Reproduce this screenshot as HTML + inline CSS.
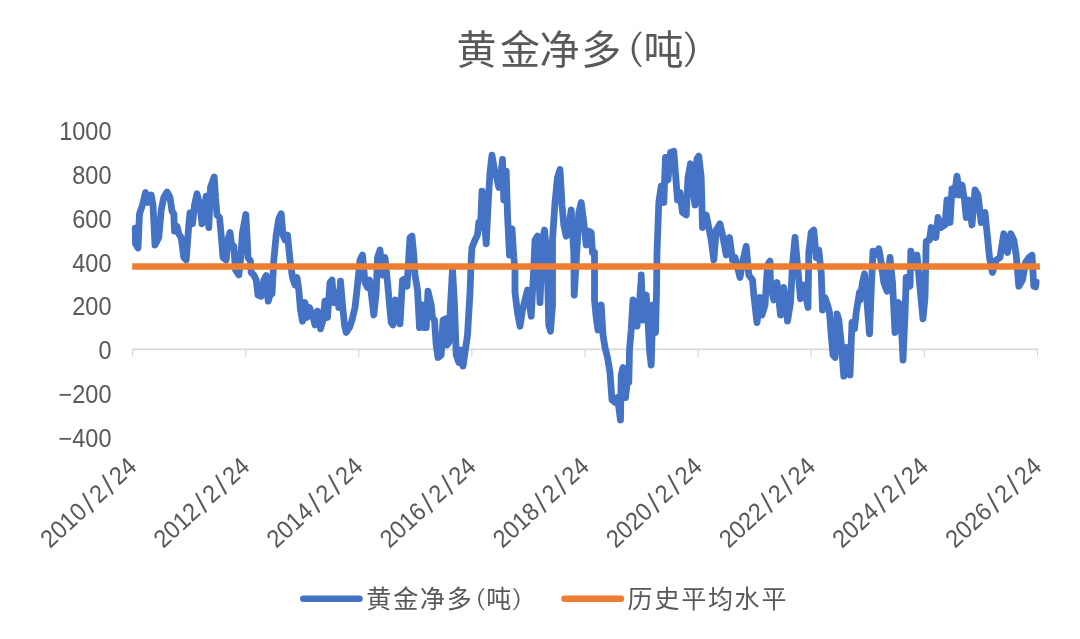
<!DOCTYPE html>
<html lang="zh-CN">
<head>
<meta charset="utf-8">
<title>黄金净多(吨)</title>
<style>
html,body{margin:0;padding:0;background:#fff;}
body{width:1080px;height:639px;overflow:hidden;}
svg{display:block;}
text{font-family:"Liberation Sans","Noto Sans CJK SC",sans-serif;fill:#595959;}
.ax text{font-size:25px;}
.ax .sl{font-size:29px;}
.title{font-size:40px;font-weight:400;}
.lg{font-size:25px;font-weight:400;}
.pn{font-family:"Noto Sans CJK SC",sans-serif;font-weight:300;}
</style>
</head>
<body>
<svg width="1080" height="639" viewBox="0 0 1080 639">
<rect width="1080" height="639" fill="#fff"/>
<g><text class="title" y="63.6" x="456.5 500 539.5 581.2">黄金净多</text><text class="title pn" style="font-size:35.5px" transform="translate(626.2,59.8) scale(1.6,1)">(</text><text class="title" y="63.6" x="643.5">吨</text><text class="title pn" style="font-size:35.5px" transform="translate(682.6,59.8) scale(1.6,1)">)</text></g>
<g class="ax">
<text transform="translate(111.5,139.6) scale(0.94,1)" text-anchor="end">1000</text>
<text transform="translate(111.5,183.6) scale(0.94,1)" text-anchor="end">800</text>
<text transform="translate(111.5,227.6) scale(0.94,1)" text-anchor="end">600</text>
<text transform="translate(111.5,271.6) scale(0.94,1)" text-anchor="end">400</text>
<text transform="translate(111.5,315.1) scale(0.94,1)" text-anchor="end">200</text>
<text transform="translate(111.5,359.1) scale(0.94,1)" text-anchor="end">0</text>
<text transform="translate(111.5,403.1) scale(0.94,1)" text-anchor="end">−200</text>
<text transform="translate(111.5,446.6) scale(0.94,1)" text-anchor="end">−400</text>
</g>
<path d="M132,349.4H1038.2" fill="none" stroke="#d9d9d9" stroke-width="1.6"/>
<path d="M132.5,349.4V357M245.625,349.4V357M358.75,349.4V357M471.875,349.4V357M585,349.4V357M698.125,349.4V357M811.25,349.4V357M924.375,349.4V357M1037.5,349.4V357" fill="none" stroke="#d9d9d9" stroke-width="1.2"/>
<g class="ax">
<text transform="translate(138.1,468.4) rotate(-42.5) scale(0.94,1)" text-anchor="end">2010<tspan class="sl" dx="3.4" dy="1.8">/</tspan><tspan dx="3.4" dy="-1.8">2</tspan><tspan class="sl" dx="3.4" dy="1.8">/</tspan><tspan dx="3.4" dy="-1.8">24</tspan></text>
<text transform="translate(251.225,468.4) rotate(-42.5) scale(0.94,1)" text-anchor="end">2012<tspan class="sl" dx="3.4" dy="1.8">/</tspan><tspan dx="3.4" dy="-1.8">2</tspan><tspan class="sl" dx="3.4" dy="1.8">/</tspan><tspan dx="3.4" dy="-1.8">24</tspan></text>
<text transform="translate(364.35,468.4) rotate(-42.5) scale(0.94,1)" text-anchor="end">2014<tspan class="sl" dx="3.4" dy="1.8">/</tspan><tspan dx="3.4" dy="-1.8">2</tspan><tspan class="sl" dx="3.4" dy="1.8">/</tspan><tspan dx="3.4" dy="-1.8">24</tspan></text>
<text transform="translate(477.475,468.4) rotate(-42.5) scale(0.94,1)" text-anchor="end">2016<tspan class="sl" dx="3.4" dy="1.8">/</tspan><tspan dx="3.4" dy="-1.8">2</tspan><tspan class="sl" dx="3.4" dy="1.8">/</tspan><tspan dx="3.4" dy="-1.8">24</tspan></text>
<text transform="translate(590.6,468.4) rotate(-42.5) scale(0.94,1)" text-anchor="end">2018<tspan class="sl" dx="3.4" dy="1.8">/</tspan><tspan dx="3.4" dy="-1.8">2</tspan><tspan class="sl" dx="3.4" dy="1.8">/</tspan><tspan dx="3.4" dy="-1.8">24</tspan></text>
<text transform="translate(703.725,468.4) rotate(-42.5) scale(0.94,1)" text-anchor="end">2020<tspan class="sl" dx="3.4" dy="1.8">/</tspan><tspan dx="3.4" dy="-1.8">2</tspan><tspan class="sl" dx="3.4" dy="1.8">/</tspan><tspan dx="3.4" dy="-1.8">24</tspan></text>
<text transform="translate(816.85,468.4) rotate(-42.5) scale(0.94,1)" text-anchor="end">2022<tspan class="sl" dx="3.4" dy="1.8">/</tspan><tspan dx="3.4" dy="-1.8">2</tspan><tspan class="sl" dx="3.4" dy="1.8">/</tspan><tspan dx="3.4" dy="-1.8">24</tspan></text>
<text transform="translate(929.975,468.4) rotate(-42.5) scale(0.94,1)" text-anchor="end">2024<tspan class="sl" dx="3.4" dy="1.8">/</tspan><tspan dx="3.4" dy="-1.8">2</tspan><tspan class="sl" dx="3.4" dy="1.8">/</tspan><tspan dx="3.4" dy="-1.8">24</tspan></text>
<text transform="translate(1043.1,468.4) rotate(-42.5) scale(0.94,1)" text-anchor="end">2026<tspan class="sl" dx="3.4" dy="1.8">/</tspan><tspan dx="3.4" dy="-1.8">2</tspan><tspan class="sl" dx="3.4" dy="1.8">/</tspan><tspan dx="3.4" dy="-1.8">24</tspan></text>
</g>
<path d="M135.2,228.2 L135.5,243.8 L138,248 L139.5,213.8 L142.5,205 L145.5,192.5 L148,202.5 L151.2,195 L153,205 L155,245 L158.8,237.5 L161.2,210 L163.8,197.5 L167,192 L170,197.5 L172,211.2 L173.8,213.8 L174.5,231.2 L177,226.2 L178.8,233.8 L181.2,237.5 L183.8,257.5 L186.2,260 L188.8,225 L190,213 L192.5,223.8 L194.5,205 L197,193.8 L200,206.2 L202,223.8 L203.8,210 L206.2,196.2 L208.8,227.5 L210.5,187.5 L214.2,177 L215.5,197.5 L217,215 L219.5,217.5 L221.2,235 L223,257.5 L226.2,260 L228,240 L230,232.5 L232,247.5 L233.8,246.2 L235.5,270 L238.8,275 L240.5,260 L242.5,232.5 L245.8,214.5 L247,235 L248,257.5 L250.5,261.2 L251.2,272.5 L253.8,275 L256.2,280 L258,295 L261.2,296.2 L263.8,280 L266.2,275.5 L268.2,301.2 L270,295 L272,293.8 L273.8,260 L276.2,235 L278.8,218.8 L281.2,213.8 L283,235 L285,240 L287.5,235 L290,260 L292.5,277.5 L295,285 L297,277.5 L298.8,290 L300.5,310 L302.5,321.2 L305,302.5 L307,317.5 L309.5,307.5 L312.5,315 L315,325 L317.5,311.2 L320.5,328.8 L323,320 L325,301.2 L327.5,317.5 L330,282.5 L332,280 L333.8,302.5 L336.2,292.5 L338.8,307.5 L340.5,281.2 L342.5,305 L344.5,325 L346.2,332.5 L349.5,327.5 L352,320 L355,307.5 L357.5,285 L360,260 L362.5,255 L365,282.5 L367.5,287.5 L369.5,280 L371.2,292.5 L373.8,315 L376.2,292.5 L377.5,257.5 L380,250 L382.5,275 L385,257.5 L387.5,282.5 L390,310 L391.2,322.5 L393,325 L395.5,300 L397.5,305 L400,323.8 L402.5,280 L405,278.8 L407,286.2 L410,237.5 L412,236.2 L413.8,255 L415,275 L417.5,290 L419.5,327.5 L422,305 L423.8,327.5 L426.2,327.5 L428,291.2 L430,300 L431.2,305 L432.5,317.5 L434.5,320 L436.2,345 L438,357.5 L441.2,355 L443,320 L445.5,318.8 L447,345 L448.8,342.5 L450.5,305 L452.5,269.5 L454.5,305 L456.2,355 L458.8,362.5 L461.2,350 L463,366.2 L465,352.5 L467.5,335 L470,292.5 L471.2,260 L472,247.5 L475,240 L477.5,235 L478.8,222.5 L480.5,227.5 L482,191.2 L483.8,212.5 L486.2,243.8 L488.2,202.5 L490,172.5 L492,155.2 L494.5,170 L496.2,175 L498.8,187.5 L501.2,172.5 L502.5,159.5 L503.8,200 L506.2,171.2 L507.5,215 L509.5,255 L512,228.8 L513.8,257.5 L515,270 L515,292.5 L517.5,312.5 L520,326.2 L522.5,310 L525,300 L527.5,290 L531.2,316.2 L533.8,267.5 L535,240 L537.5,236.2 L540,302.5 L542.5,240 L544.5,230 L547,255 L548.8,325 L550.5,331.2 L552.5,305 L552.5,240 L555,202.5 L557.5,177.5 L560,169.5 L562,205 L563.8,225 L566.2,236.2 L568.8,227.5 L571.2,210 L573.8,252.5 L574.2,295 L577.5,240 L578.8,212.5 L581.2,202.5 L583.8,222.5 L586.2,245 L588.8,231.2 L591.2,232.5 L592.5,252.5 L594.5,252.5 L594.5,300 L596.2,317.5 L598,330 L601.2,305 L603,335 L605,347.5 L607.5,357.5 L610,372.5 L610.5,380 L612,400 L615,402.5 L617.5,397.5 L620.5,420 L621.2,375 L623,367.5 L625.5,397.5 L627.5,380 L628.8,382.5 L629.5,350 L631.2,330 L633,300 L635,302.5 L637,326.2 L638.8,310 L641.2,280 L641.2,275 L643,320 L646.2,295 L648,320 L649.5,350 L651.2,365 L653,305 L655.5,332.5 L656.5,292.5 L657,252.5 L658.8,202.5 L661.2,186.2 L663.8,202.5 L665.5,157.5 L668,180 L670.5,152.5 L673.8,151.2 L676.2,182.5 L677.5,200 L680,192.5 L682.5,212.5 L686.2,215 L688,177.5 L690.5,163.8 L693,190 L695,205 L697,158.8 L698.8,156.2 L701.2,177.5 L702.5,227.5 L706.2,215 L708.8,227.5 L711.2,240 L713.8,260 L716.2,230 L720,223.8 L722.5,235 L726.2,255 L729.5,237.5 L732.5,260 L735,257.5 L737.5,267.5 L740,277.5 L743,260 L746.2,246.2 L748.8,275 L752.5,280 L753.8,295 L757,322.5 L760,297.5 L762,315 L765,305 L767.5,265 L770,261.2 L770.5,285 L773.8,300 L777,282.5 L780.5,315 L783.8,287.5 L787.5,321.2 L790.5,302.5 L792.5,265 L795,237.5 L797.5,265 L800.5,298.8 L803.8,285 L808,307.5 L808.8,252.5 L811.2,232.5 L813.8,230 L816.2,257.5 L818.8,250 L821.2,272.5 L822.5,310 L825,297.5 L827.5,305 L829.5,312.5 L831.2,335 L833,355 L835,357.5 L837,313.8 L838.8,320 L841.2,342.5 L843.8,376.2 L846.2,347.5 L850,375 L852,322.5 L854.5,328.8 L856.2,312.5 L859.5,292.5 L860,300 L862.5,282.5 L864.5,273.8 L867,302.5 L869.5,333.8 L871.2,290 L873,251.2 L875.5,255 L878.8,248.8 L881.2,262.5 L883.8,282.5 L887,291.2 L890,257.5 L892.5,282.5 L895,332.5 L898,302.5 L900.5,305 L903,360 L905,315 L906.2,277.5 L910,286.2 L910.8,251.2 L913.8,267.5 L917,255 L919.5,282.5 L923,318.8 L925,297.5 L926.2,241.2 L929.5,240 L931.2,227.5 L933.8,230 L935.8,237.5 L938,217.5 L941.2,227.5 L945,225 L947,200 L950,222.5 L952,188.8 L954.5,195 L957,176.2 L959.5,195 L962,185 L964.5,200 L966.2,217.5 L968.8,200 L972,225 L975,190 L978,195 L981.2,222.5 L985,212.5 L987.5,237.5 L989.5,257.5 L992.5,272.5 L996.2,260 L1000,257.5 L1003.8,233.8 L1007.5,252.5 L1010.8,233.8 L1013.8,240 L1016.2,255 L1018.8,286.2 L1022.5,280 L1025.5,262.5 L1028.8,257.5 L1032,255.2 L1033.8,286.2 L1035.5,287 L1036.2,282" fill="none" stroke="#4472c4" stroke-width="6.8" stroke-linejoin="round" stroke-linecap="round"/>
<path d="M132.2,266.55H1039.9" fill="none" stroke="#ed7d31" stroke-width="6.5"/>
<path d="M303.3,598.8H359.5" stroke="#4472c4" stroke-width="6.5" stroke-linecap="round"/>
<g><text class="lg" y="608" x="366.2 393.3 420 446.7">黄金净多</text><text class="lg pn" style="font-size:22.2px" transform="translate(474.7,605.6) scale(1.6,1)">(</text><text class="lg" y="608" x="486.2">吨</text><text class="lg pn" style="font-size:22.2px" transform="translate(511.8,605.6) scale(1.6,1)">)</text></g>
<path d="M564.5,598.8H621" stroke="#ed7d31" stroke-width="6.5" stroke-linecap="round"/>
<text class="lg" y="608" x="627.6 654.6 681.2 708 734.4 761.5">历史平均水平</text>
</svg>
</body>
</html>
